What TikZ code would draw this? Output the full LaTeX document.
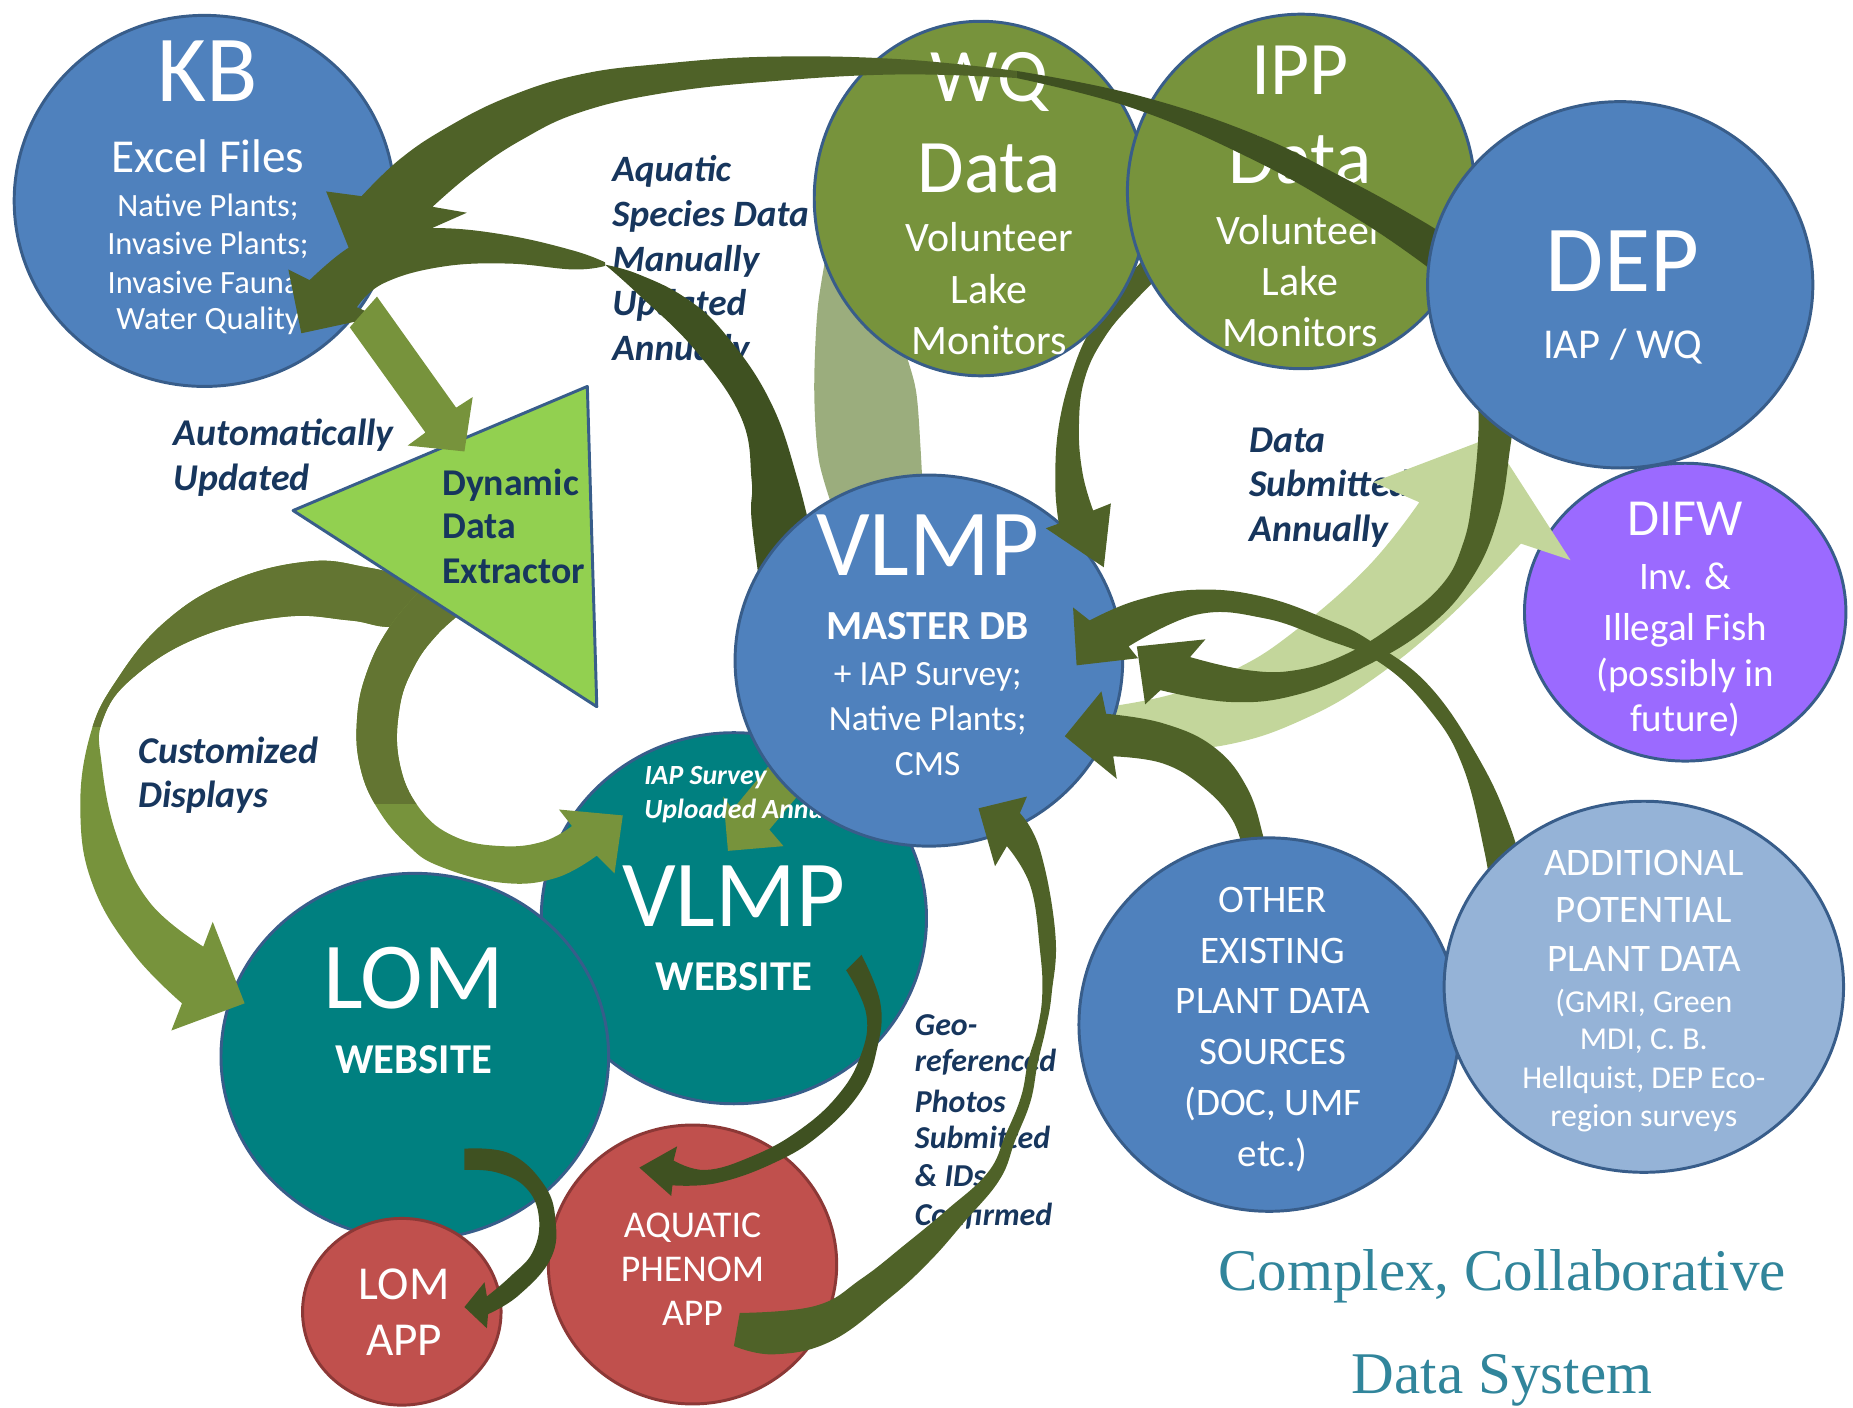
\documentclass[tikz,border=0pt]{standalone}
\usepackage{fontspec}
\setmainfont{Carlito}
\newfontfamily\titlefont{Liberation Serif}
\usetikzlibrary{shapes.geometric}
\definecolor{kbblue}{RGB}{79,129,189}
\definecolor{bord}{RGB}{56,93,138}
\definecolor{olv}{RGB}{119,147,60}
\definecolor{olvdark}{RGB}{99,117,50}
\definecolor{tealf}{RGB}{0,128,128}
\definecolor{redf}{RGB}{192,80,77}
\definecolor{redb}{RGB}{140,56,54}
\definecolor{purp}{RGB}{155,106,255}
\definecolor{ltblue}{RGB}{149,179,215}
\definecolor{trig}{RGB}{146,208,80}
\definecolor{navy}{RGB}{23,54,93}
\definecolor{dk}{RGB}{79,98,40}
\definecolor{dkk}{RGB}{63,81,33}
\definecolor{ltgreen}{RGB}{195,214,155}
\definecolor{grayband}{RGB}{155,173,125}
\definecolor{titlec}{RGB}{49,133,155}
\tikzset{ell/.style={ellipse, draw=bord, line width=2.5pt, inner sep=0pt}}
\newcommand{\mkline}[6]{\node[inner sep=0pt, anchor=base, text=#6, font=\fontsize{#4}{#4}\selectfont] (#1) at (#2,#3) {#5};}
\newcommand{\mklab}[5]{\node[inner sep=0pt, anchor=base west, text=navy, font=\bfseries\itshape\fontsize{#4}{#4}\selectfont] (#1) at (#2,#3) {#5};}
\newcommand{\pathAfour}{plot[smooth,tension=0.7] coordinates {(380,500) (347,489) (310,480) (262,475) (197,491) (141,525) (99,575) (76,623) (68,688) (79,750) (113,807) (154,849)} -- (145,872) -- (207,849) -- (180,780) -- plot[smooth,tension=0.7] coordinates {(172,801) (127,764) (99,708) (86,646) (87,609) (113,573) (169,539) (240,522) (296,525) (335,530) (385,515)} -- cycle}
\newcommand{\pathAfive}{plot[smooth,tension=0.7] coordinates {(360,495) (330,530) (310,570) (302,610) (305,650) (320,685) (345,715) (372,733) (425,747) (470,743) (505,724)} -- (520,739) -- (527,690) -- (473,685) -- plot[smooth,tension=0.7] coordinates {(484,699) (460,712) (425,716) (385,708) (355,684) (338,645) (338,600) (350,565) (370,537) (395,515)} -- cycle}
\begin{document}
\begin{tikzpicture}[x=1pt,y=-1pt]
\useasboundingbox (0,0) rectangle (1568,1191);

% ---- labels
\mklab{la1}{518}{154}{31.5}{Aquatic}
\mklab{la2}{518}{192}{31.5}{Species Data}
\mklab{la3}{518}{230}{31.5}{Manually}
\mklab{la4}{518}{267}{31.5}{Updated}
\mklab{la5}{518}{305}{31.5}{Annually}
\mklab{lb1}{147}{377}{32}{Automatically}
\mklab{lb2}{147}{415}{32}{Updated}
\mklab{lc1}{117}{646}{32}{Customized}
\mklab{lc2}{117}{683}{32}{Displays}
\mklab{ld1}{1057}{383}{32}{Data}
\mklab{ld2}{1057}{420}{32}{Submitted}
\mklab{ld3}{1057}{458}{32}{Annually}
\mklab{le1}{774}{876}{27}{Geo-}
\mklab{le2}{774}{907}{27}{referenced}
\mklab{le3}{774}{941}{27}{Photos}
\mklab{le4}{774}{972}{27}{Submitted}
\mklab{le5}{774}{1004}{27}{\& IDs}
\mklab{le6}{774}{1037}{27}{Confirmed}
\node[inner sep=0pt, anchor=base, text=titlec, font=\titlefont\fontsize{50}{50}\selectfont] (ti1) at (1271,1092) {Complex, Collaborative};
\node[inner sep=0pt, anchor=base, text=titlec, font=\titlefont\fontsize{50}{50}\selectfont] (ti2) at (1271,1179) {Data System};

% ---- KB
\node[ell, fill=kbblue, minimum width=322pt, minimum height=314pt] (kb) at (173,170) {};
\mkline{kb1}{176}{86}{80}{KB}{white}
\mkline{kb2}{176}{146}{40}{Excel Files}{white}
\mkline{kb3}{176}{183}{27.5}{Native Plants;}{white}
\mkline{kb4}{176}{215}{27.5}{Invasive Plants;}{white}
\mkline{kb5}{176}{248}{27.5}{Invasive Fauna;}{white}
\mkline{kb6}{176}{279}{27.5}{Water Quality}{white}

% ---- VLMP website
\node[ell, fill=tealf, minimum width=326pt, minimum height=314pt] (vweb) at (621,777) {};
\mkline{vw1}{621}{784}{80}{VLMP}{white}
\mkline{vw2}{621}{838}{36}{\bfseries WEBSITE}{white}
% A12
\fill[olv] (672,622) -- (620,685) -- (612,674) -- (616,720) -- (663,716) -- (651,702) -- (703,640) -- cycle;
\node[inner sep=0pt, anchor=base west, text=white, font=\bfseries\itshape\fontsize{23.5}{23.5}\selectfont] (ias1) at (545,664) {IAP Survey};
\node[inner sep=0pt, anchor=base west, text=white, font=\bfseries\itshape\fontsize{23.5}{23.5}\selectfont] (ias2) at (545,693) {Uploaded Annually};

% ---- LOM website, apps
\node[ell, fill=tealf, minimum width=328pt, minimum height=310pt] (lomweb) at (351,894) {};
\mkline{lw1}{350}{853}{80}{LOM}{white}
\mkline{lw2}{350}{908}{36}{\bfseries WEBSITE}{white}
\node[ell, fill=redf, draw=redb, minimum width=168pt, minimum height=158pt] (lomapp) at (340,1110) {};
\mkline{la1t}{342}{1100}{40}{LOM}{white}
\mkline{la2t}{342}{1147}{40}{APP}{white}
\node[ell, fill=redf, draw=redb, minimum width=244pt, minimum height=236pt] (aqua) at (586,1070) {};
\mkline{aq1}{586}{1047}{32}{AQUATIC}{white}
\mkline{aq2}{586}{1084}{32}{PHENOM}{white}
\mkline{aq3}{586}{1122}{32}{APP}{white}

% ---- DIFW
\node[ell, fill=purp, minimum width=272pt, minimum height=252pt] (difw) at (1426,518) {};
\mkline{df1}{1426}{453}{44}{DIFW}{white}
\mkline{df2}{1426}{499}{33}{Inv. \&}{white}
\mkline{df3}{1426}{542}{33}{Illegal Fish}{white}
\mkline{df4}{1426}{581}{33}{(possibly in}{white}
\mkline{df5}{1426}{619}{33}{future)}{white}

% ---- arrows under VLMP master DB
\fill[grayband] plot[smooth] coordinates {(702,200) (692,260) (689,330) (693,390) (708,440)} -- plot[smooth] coordinates {(782,440) (779,380) (775,330) (764,290) (750,230)} -- cycle;
\fill[dkk] plot[smooth,tension=0.7] coordinates {(645,510) (636,440) (636,406) (627,353) (588,296) (539,248) (512,224)} -- plot[smooth,tension=0.7] coordinates {(512,224) (540,232) (580,252) (613,282) (651,338) (675,406) (695,490)} -- cycle;
\fill[dk] plot[smooth,tension=0.7] coordinates {(512,222) (485,212) (429,199) (372,193) (330,197) (296,209) (262,237)} -- (244,228) -- (255,282) -- (320,268) -- plot[smooth,tension=0.7] coordinates {(302,260) (324,240) (372,226) (429,223) (485,228) (512,225)} -- cycle;
\fill[ltgreen] plot[smooth,tension=0.7] coordinates {(925,600) (990,588) (1044,567) (1093,536) (1157,480) (1201,425)} -- (1162,408) -- (1262,370) -- (1329,474) -- plot[smooth,tension=0.7] coordinates {(1287,460) (1223,525) (1157,578) (1100,610) (1044,629) (990,634) (925,632)} -- cycle;

% ---- VLMP master DB
\node[ell, fill=kbblue, minimum width=328pt, minimum height=314pt] (vdb) at (786,559) {};
\mkline{vd1}{785}{487}{80}{VLMP}{white}
\mkline{vd2}{785}{541}{35}{\bfseries MASTER DB}{white}
\mkline{vd3}{785}{580}{30}{+ IAP Survey;}{white}
\mkline{vd4}{785}{618}{30}{Native Plants;}{white}
\mkline{vd5}{785}{656}{30}{CMS}{white}

% A7 IPP -> VLMP
\fill[dk] plot[smooth,tension=0.7] coordinates {(972,215) (945,245) (925,275) (909,310) (896,360) (893,410) (896,443)} -- (885,447) -- (934,480) -- (940,426) -- plot[smooth,tension=0.7] coordinates {(925,432) (916,400) (913,360) (918,320) (935,285) (960,255) (990,225)} -- cycle;

% ---- WQ, IPP
\node[ell, fill=olv, minimum width=282pt, minimum height=300pt] (wq) at (830,168) {};
\mkline{wq1}{837}{86}{64}{WQ}{white}
\mkline{wq2}{837}{163}{64}{Data}{white}
\mkline{wq3}{837}{213}{35.5}{Volunteer}{white}
\mkline{wq4}{837}{257}{35.5}{Lake}{white}
\mkline{wq5}{837}{300}{35.5}{Monitors}{white}
\node[ell, fill=olv, minimum width=294pt, minimum height=300pt] (ipp) at (1101,162) {};
\mkline{ip1}{1100}{80}{64}{IPP}{white}
\mkline{ip2}{1100}{155}{64}{Data}{white}
\mkline{ip3}{1100}{207}{35.5}{Volunteer}{white}
\mkline{ip4}{1100}{250}{35.5}{Lake}{white}
\mkline{ip5}{1100}{293}{35.5}{Monitors}{white}

% A1 DEP -> KB
\fill[dkk] plot[smooth,tension=0.7] coordinates {(1232,205) (1200,185) (1140,152) (1060,113) (960,80) (860,60)} -- plot[smooth,tension=0.7] coordinates {(860,66) (960,92) (1060,135) (1140,180) (1200,220) (1230,245)} -- cycle;
\fill[dk] plot[smooth,tension=0.7] coordinates {(860,60) (760,50) (650,48) (560,54) (491,63) (430,82) (378,108) (338,135) (306,166)} -- (276,162) -- (300,222) -- (395,180) -- plot[smooth,tension=0.7] coordinates {(366,175) (400,146) (442,118) (491,95) (560,79) (650,69) (760,63) (860,66)} -- cycle;

% A9 DEP -> VLMP, A10, A11
\fill[dk] plot[smooth,tension=0.7] coordinates {(1250,330) (1251,367) (1246,420) (1238,460) (1220,495) (1182,527) (1140,553) (1097,567) (1055,567) (1007,556)} -- (1020,541) -- (962,547) -- (969,596) -- plot[smooth,tension=0.7] coordinates {(982,584) (1041,594) (1097,588) (1153,565) (1207,532) (1245,490) (1268,437) (1278,378) (1284,330)} -- cycle;
\fill[dk] plot[smooth,tension=0.7] coordinates {(1292,750) (1278,700) (1252,643) (1210,581) (1162,544) (1125,525) (1069,505) (1013,499) (962,508) (922,525)} -- (908,514) -- (911,563) -- (963,557) -- plot[smooth,tension=0.7] coordinates {(955,547) (1013,520) (1069,523) (1119,540) (1168,561) (1210,601) (1238,649) (1256,720) (1262,760)} -- cycle;
\fill[dk] plot[smooth,tension=0.7] coordinates {(1071,725) (1069,708) (1055,666) (1027,632) (984,612) (936,604)} -- (932,585) -- (901,623) -- (945,659) -- plot[smooth,tension=0.7] coordinates {(942,640) (984,646) (1018,666) (1043,694) (1053,725)} -- cycle;

% ---- DEP
\node[ell, fill=kbblue, minimum width=326pt, minimum height=310pt] (dep) at (1371,241) {};
\mkline{dp1}{1373}{247}{80}{DEP}{white}
\mkline{dp2}{1373}{303}{36}{IAP / WQ}{white}

% ---- OTHER, ADDITIONAL
\node[ell, fill=kbblue, minimum width=322pt, minimum height=316pt] (other) at (1074,867) {};
\mkline{ot1}{1077}{772}{33}{OTHER}{white}
\mkline{ot2}{1077}{815}{33}{EXISTING}{white}
\mkline{ot3}{1077}{858}{33}{PLANT DATA}{white}
\mkline{ot4}{1077}{901}{33}{SOURCES}{white}
\mkline{ot5}{1077}{944}{33}{(DOC, UMF}{white}
\mkline{ot6}{1077}{987}{33}{etc.)}{white}
\node[ell, fill=ltblue, minimum width=338pt, minimum height=314pt] (addl) at (1391,835) {};
\mkline{ad1}{1391}{741}{33}{ADDITIONAL}{white}
\mkline{ad2}{1391}{781}{33}{POTENTIAL}{white}
\mkline{ad3}{1391}{822}{33}{PLANT DATA}{white}
\mkline{ad4}{1391}{857}{27}{(GMRI, Green}{white}
\mkline{ad5}{1391}{888}{27}{MDI, C. B.}{white}
\mkline{ad6}{1391}{921}{27}{Hellquist, DEP Eco-}{white}
\mkline{ad7}{1391}{953}{27}{region surveys}{white}

% ---- A4, A5 from the extractor
\fill[olv] \pathAfour;
\begin{scope}
\clip (0,0) rectangle (600,615);
\fill[olvdark] \pathAfour;
\end{scope}
\fill[olv] \pathAfive;
\begin{scope}
\clip (0,0) rectangle (600,680);
\fill[olvdark] \pathAfive;
\end{scope}

% ---- Dynamic Data Extractor
\coordinate (t1) at (248,432);
\coordinate (t2) at (497,327);
\coordinate (t3) at (505,598);
\filldraw[fill=trig, draw=bord, line width=2.5pt, line join=round] (t1) -- (t2) -- (t3) -- cycle;
\node[inner sep=0pt, anchor=base west, text=navy, font=\bfseries\fontsize{32}{32}\selectfont] (dd1) at (374,419) {Dynamic};
\node[inner sep=0pt, anchor=base west, text=navy, font=\bfseries\fontsize{32}{32}\selectfont] (dd2) at (374,456) {Data};
\node[inner sep=0pt, anchor=base west, text=navy, font=\bfseries\fontsize{32}{32}\selectfont] (dd3) at (374,494) {Extractor};

% A3 KB -> extractor
\fill[olv] (296,277) -- (360,366) -- (345,377) -- (393,382) -- (400,336) -- (386,345) -- (319,251) -- cycle;

% A13 VLMP website -> Aquatic app
\fill[dkk] plot[smooth,tension=0.7] coordinates {(729,808) (745,849) (742,888) (728,924) (694,960) (655,984) (607,1001) (569,1003)} -- (568,1012) -- (541,988) -- (573,970) -- plot[smooth,tension=0.7] coordinates {(570,982) (597,990) (635,979) (674,958) (708,928) (728,894) (733,858) (716,821)} -- cycle;
% A14 LOM website -> LOM app
\fill[dkk] plot[smooth,tension=0.7] coordinates {(393,972) (431,976) (460,1002) (470,1032) (466,1065) (439,1096) (413,1112)} -- (412,1124) -- (393,1106) -- (410,1085) -- plot[smooth,tension=0.7] coordinates {(412,1097) (432,1080) (451,1059) (456,1030) (445,1005) (420,992) (393,990)} -- cycle;
% A15 Aquatic app -> VLMP master DB
\fill[dk] plot[smooth,tension=0.7] coordinates {(621,1139) (655,1146) (703,1135) (752,1099) (786,1068) (816,1034) (846,998) (859,965) (872,932) (878,900) (885,870) (890,840) (893,790) (880,719) (863,688)} -- (869,674) -- (828,684) -- (842,733) -- plot[smooth,tension=0.7] coordinates {(852,716) (872,750) (880,804) (882,840) (878,870) (870,898) (864,928) (851,960) (836,992) (801,1024) (766,1053) (729,1082) (690,1105) (626,1111)} -- cycle;
\end{tikzpicture}
\end{document}
